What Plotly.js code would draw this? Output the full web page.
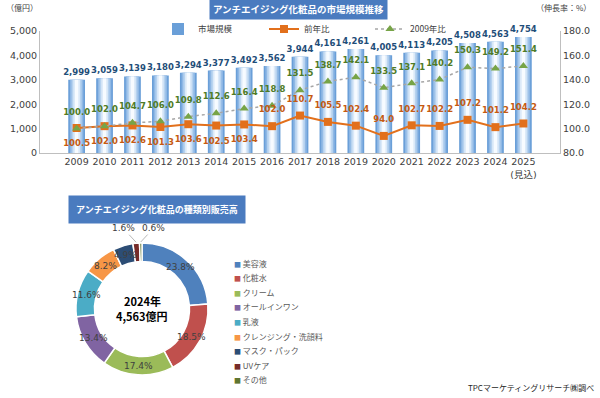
<!DOCTYPE html>
<html><head><meta charset="utf-8">
<script src="https://cdn.plot.ly/plotly-3.0.1.min.js"></script>
<style>html,body{margin:0;padding:0;background:#fff}#chart{width:600px;height:398px}</style>
</head><body><div id="chart"></div>
<script>
// ---- data ----
const years = ['2009','2010','2011','2012','2013','2014','2015','2016','2017','2018','2019','2020','2021','2022','2023','2024','2025'];
const yearLabels = ['2009','2010','2011','2012','2013','2014','2015','2016','2017','2018','2019','2020','2021','2022','2023','2024','2025<br>(見込)'];
const marketSize = [2999,3059,3139,3180,3294,3377,3492,3562,3944,4161,4261,4005,4113,4205,4508,4563,4754];
const yoy = [100.5,102.0,102.6,101.3,103.6,102.5,103.4,102.0,110.7,105.5,102.4,94.0,102.7,102.2,107.2,101.2,104.2];
const vs2009 = [100.0,102.0,104.7,106.0,109.8,112.6,116.4,118.8,131.5,138.7,142.1,133.5,137.1,140.2,150.3,149.2,151.4];
const categories = ['美容液','化粧水','クリーム','オールインワン','乳液','クレンジング・洗顔料','マスク・パック','UVケア','その他'];
const shares = [23.8,18.5,17.4,13.4,11.6,8.2,4.9,1.6,0.6];
const sliceColors = ['#4f81bd','#c0504d','#9bbb59','#8064a2','#4bacc6','#f79646','#2c4d75','#772c2a','#5f7530'];

// ---- layout constants ----
const W = 600, H = 398;
const px = x => x / W, py = y => 1 - y / H;
const JP = 'Noto Sans CJK JP, DejaVu Sans, sans-serif';
const NUM = 'DejaVu Sans, Noto Sans CJK JP, sans-serif';

const fmt = v => v.toLocaleString('en-US');
const traces = [];
// cylindrical bar imitation: overlaid layers
const layers = [
  {w:0.60, c:'#6a9fd8'},
  {w:0.48, c:'#8fb8e5'},
  {w:0.36, c:'#b6d2ef'},
  {w:0.24, c:'#dbe9f8'},
  {w:0.12, c:'#f7fbff'}
];
layers.forEach((L, i) => {
  traces.push({
    type:'bar', x: years, y: marketSize, width: L.w, name:'市場規模',
    marker:{color:L.c, line:{width:0}}, showlegend: i===0,
    text: i===0 ? marketSize.map(fmt) : undefined,
    textposition: i===0 ? 'outside' : 'none', constraintext:'none',
    textfont:{family:NUM, size:8.5, color:'#1f4e79', weight:'bold'},
    cliponaxis:false, hoverinfo:'skip'
  });
});
traces.push({
  type:'scatter', mode:'lines+markers', x: years, y: yoy, yaxis:'y2', name:'前年比',
  line:{color:'#e2701c', width:2}, marker:{symbol:'square', size:8, color:'#e2701c'}, cliponaxis:false
});
traces.push({
  type:'scatter', mode:'lines+markers', x: years, y: vs2009, yaxis:'y2', name:'2009年比',
  line:{color:'#a6a6a6', width:1.5, dash:'dot'}, marker:{symbol:'triangle-up', size:8, color:'#77a447'}, cliponaxis:false
});
// value labels for the two lines (invisible larger markers give the label offset)
traces.push({
  type:'scatter', mode:'markers+text', x: years, y: yoy, yaxis:'y2', showlegend:false, hoverinfo:'skip',
  marker:{size:17, opacity:0}, text: yoy.map(v=>v.toFixed(1)),
  textposition: yoy.map((v,i) => i < 7 ? 'bottom center' : 'top center'),
  textfont:{family:NUM, size:8.5, color:'#c55a11', weight:'bold'}, cliponaxis:false
});
traces.push({
  type:'scatter', mode:'markers+text', x: years, y: vs2009, yaxis:'y2', showlegend:false, hoverinfo:'skip',
  marker:{size:17, opacity:0}, text: vs2009.map(v=>v.toFixed(1)), textposition:'top center',
  textfont:{family:NUM, size:8.5, color:'#4f7b26', weight:'bold'}, cliponaxis:false
});

// donut
const PIE_CX = 142, PIE_CY = 309, PIE_R = 66, HOLE = 0.72;
traces.push({
  type:'pie', labels: categories, values: shares, hole: HOLE, sort:false, direction:'clockwise', rotation:0,
  marker:{colors: sliceColors, line:{color:'#ffffff', width:1.5}},
  textinfo:'none', showlegend:false,
  domain:{x:[px(PIE_CX-PIE_R), px(PIE_CX+PIE_R)], y:[py(PIE_CY+PIE_R), py(PIE_CY-PIE_R)]}
});

// slice labels computed from data
const total = shares.reduce((a,b)=>a+b,0);
const annotations = [];
const ann = o => annotations.push(Object.assign({xref:'paper', yref:'paper', xanchor:'center', yanchor:'middle', showarrow:false}, o));
let cum = 0;
shares.forEach((v,i) => {
  const mid = (cum + v/2) / total; cum += v;
  const th = 2*Math.PI*mid;
  const label = v.toFixed(1) + '%';
  if (v >= 3) {
    const r = PIE_R*(1+HOLE)/2;
    ann({x:px(PIE_CX + r*Math.sin(th)), y:py(PIE_CY - r*Math.cos(th)), text:label,
      font:{family:NUM, size:9, color:'#404040'}});
  } else {
    const r = PIE_R + 1;
    const dir = i === shares.length-1 ? 1 : -1;
    ann({x:px(PIE_CX + r*Math.sin(th)), y:py(PIE_CY - r*Math.cos(th)), text:label,
      showarrow:true, arrowhead:0, arrowwidth:0.8, arrowcolor:'#a6a6a6', ax: dir*13, ay:-14,
      font:{family:NUM, size:9, color:'#404040'}});
  }
});
// donut legend (compact, drawn as text entries)
const LEG_X = 232, LEG_Y0 = 263, LEG_DY = 14.6;
categories.forEach((c,i) => {
  ann({x:px(LEG_X), y:py(LEG_Y0 + i*LEG_DY), xanchor:'left',
    text:'<span style="color:'+sliceColors[i]+';font-size:7px">■</span> '+c,
    font:{family:JP, size:8, color:'#595959'}});
});
ann({x:px(PIE_CX), y:py(PIE_CY-8), text:'<b>2024年</b>', font:{family:JP, size:11, color:'#000'}});
ann({x:px(PIE_CX), y:py(PIE_CY+7), text:'<b>4,563億円</b>', font:{family:JP, size:11, color:'#000'}});
ann({x:px(298), y:py(9), text:'<b>アンチエイジング化粧品の市場規模推移</b>',
   bgcolor:'#4a7bbf', borderpad:3, font:{family:JP, size:9.5, color:'#fff'}});
ann({x:px(157), y:py(210), text:'<b>アンチエイジング化粧品の種類別販売高</b>',
   bgcolor:'#4a7bbf', borderpad:7, font:{family:JP, size:9, color:'#fff'}});
ann({x:px(22), y:py(8), text:'（億円）', font:{family:JP, size:8, color:'#404040'}});
ann({x:px(563), y:py(8), text:'（伸長率：%）', font:{family:JP, size:8, color:'#404040'}});
ann({x:px(596), y:py(387), xanchor:'right', text:'TPCマーケティングリサーチ㈱調べ', font:{family:JP, size:8, color:'#262626'}});

const layout = {
  width:W, height:H, margin:{l:0,r:0,t:0,b:0}, paper_bgcolor:'#fff', plot_bgcolor:'rgba(0,0,0,0)',
  barmode:'overlay', font:{family:JP, color:'#404040'},
  xaxis:{domain:[px(40), px(560)], type:'category', tickvals: years, ticktext: yearLabels, automargin:false,
    tickfont:{family:NUM, size:9.5, color:'#404040'}, showline:true, linecolor:'#bfbfbf', showgrid:false, ticks:'', fixedrange:true},
  yaxis:{domain:[py(153), py(31)], range:[0,5000], tickvals:[0,1000,2000,3000,4000,5000], tickformat:',d', automargin:false,
    tickfont:{family:NUM, size:9.5, color:'#404040'}, showline:true, linecolor:'#bfbfbf', showgrid:false, zeroline:false, ticks:''},
  yaxis2:{overlaying:'y', side:'right', range:[80,180], tickvals:[80,100,120,140,160,180], tickformat:'.1f', automargin:false,
    tickfont:{family:NUM, size:9.5, color:'#404040'}, showline:true, linecolor:'#bfbfbf', showgrid:false, zeroline:false, ticks:''},
  legend:{orientation:'h', x:px(158), y:py(29), xanchor:'left', yanchor:'middle', font:{family:JP, size:8.5, color:'#404040'},
    bgcolor:'rgba(0,0,0,0)', entrywidth:61, entrywidthmode:'pixels', tracegroupgap:0},
  annotations: annotations,
  showlegend:true
};
Plotly.newPlot('chart', traces, layout, {staticPlot:true});
</script></body></html>
